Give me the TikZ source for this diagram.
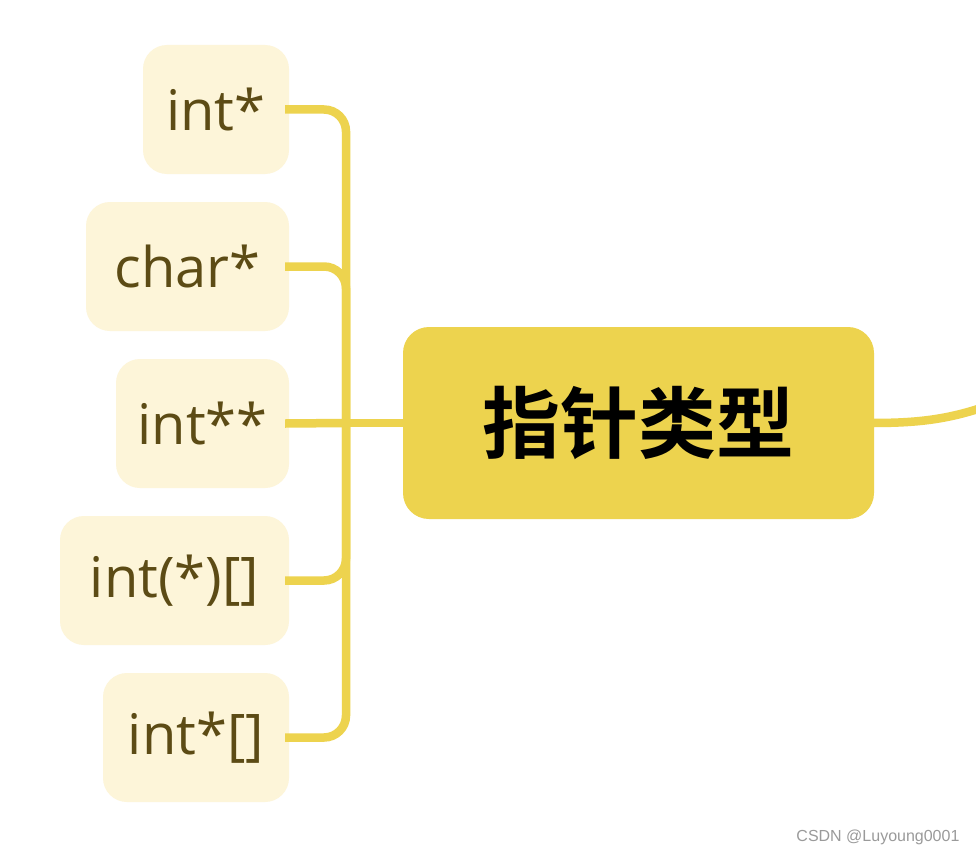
\documentclass[tikz,border=0pt]{standalone}
\usepackage{fontspec}
\setmainfont{Open Sans}
\newfontfamily\cjk{Noto Sans CJK SC}[BoldFont={* Bold}]
\newfontfamily\wmfont{Liberation Sans}
\definecolor{mainyel}{HTML}{EDD34E}
\definecolor{childfill}{HTML}{FDF5D9}
\definecolor{childtext}{HTML}{5C4B15}
\definecolor{wmgrey}{HTML}{9A9A9A}
\tikzset{
  childbox/.style={fill=childfill, rounded corners=24pt, inner sep=0pt,
    minimum height=129pt, text=childtext, font=\fontsize{56}{60}\selectfont},
  mainbox/.style={fill=mainyel, rounded corners=26pt, inner sep=0pt,
    minimum width=471pt, minimum height=192pt, text=black,
    font=\cjk\bfseries\fontsize{78}{80}\selectfont},
  link/.style={draw=mainyel, line width=8.5pt},
}
\begin{document}
\begin{tikzpicture}[x=1pt,y=-1pt]
\useasboundingbox (0,0) rectangle (976,856);
\fill[white] (0,0) rectangle (976,856);
\node[mainbox] (main) at (638.5,423) {指针类型};
\node[childbox, minimum width=146pt] (c1) at (216,109.5) {int*};
\node[childbox, minimum width=203pt] (c2) at (187.5,266.5) {char*};
\node[childbox, minimum width=173pt] (c3) at (202.5,423.5) {int**};
\node[childbox, minimum width=229pt] (c4) at (174.5,580.5) {int(*)[]};
\node[childbox, minimum width=186pt] (c5) at (196,737.5) {int*[]};
\coordinate (j) at (346,423);
\coordinate (e1) at ([xshift=-4pt]c1.east);
\coordinate (e2) at ([xshift=-4pt]c2.east);
\coordinate (e3) at ([xshift=-4pt]c3.east);
\coordinate (e4) at ([xshift=-4pt]c4.east);
\coordinate (e5) at ([xshift=-4pt]c5.east);
\draw[link] (main.west) -- (j);
\draw[link] (j) -- (e3);
\draw[link, rounded corners=22pt] (j) |- (e1);
\draw[link, rounded corners=22pt] (j) |- (e2);
\draw[link, rounded corners=22pt] (j) |- (e4);
\draw[link, rounded corners=22pt] (j) |- (e5);
\coordinate (off) at (990,405);
\begin{scope}
\clip (0,0) rectangle (976,856);
\draw[link] ([xshift=-2pt]main.east) .. controls (920,423) and (950,419) .. (off);
\end{scope}
\node[text=wmgrey, font=\wmfont\fontsize{16}{18}\selectfont, anchor=east] (wm) at (963,837) {CSDN @Luyoung0001};
\end{tikzpicture}
\end{document}
